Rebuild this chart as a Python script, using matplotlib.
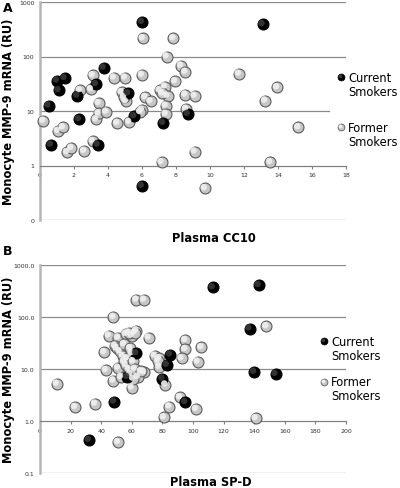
import matplotlib
matplotlib.use("Agg")
import matplotlib.pyplot as plt
import matplotlib.transforms as mtransforms

# ---------------- data ----------------
a_cur_x = [6.0, 0.5, 1.0, 1.45, 1.1, 0.65, 2.3, 2.2, 3.3, 3.75, 3.4, 5.2, 5.55, 6.0, 7.25, 8.7, 13.1]
a_cur_y = [430, 12.5, 36, 40, 24, 2.4, 7, 19, 31, 62, 2.4, 21, 8, 0.42, 6, 8.8, 390]

a_for_x = [0.2, 1.05, 1.35, 1.6, 1.85, 2.6, 3.1, 2.35, 3.1, 3.0, 3.45, 3.3, 3.45, 3.9,
           4.35, 4.55, 5.0, 4.8, 5.05, 4.95, 5.25, 6.05, 7.85, 7.45, 6.0, 6.0, 5.9, 6.2,
           6.5, 8.3, 8.55, 7.95, 11.7, 7.05, 7.35, 7.5, 7.2, 8.55, 9.1, 7.4, 7.4, 8.6,
           9.1, 7.15, 13.95, 13.25, 15.2, 13.55, 9.7]
a_for_y = [6.6, 4.3, 5.0, 1.75, 2.1, 1.85, 2.8, 24, 45, 25, 14, 7, 9, 9.7,
           41, 6, 41, 22, 15, 18, 6.3, 215, 215, 100, 46, 10.5, 9.5, 18,
           15, 68, 52, 35, 48, 24, 28, 19, 21, 20, 19, 12.5, 8.8, 10.9,
           1.8, 1.15, 27, 15.5, 5.0, 1.15, 0.38]

b_cur_x = [113, 143, 137, 140, 154, 32, 48.5, 85, 83, 80, 95, 63, 57]
b_cur_y = [370, 410, 60, 8.8, 8.0, 0.43, 2.35, 19, 12, 6.5, 2.3, 20, 7]

b_for_x = [63, 68, 48, 11, 23, 36, 51, 81, 84.5, 91.5, 102, 43, 48, 53, 60,
           51, 45, 51, 56, 63, 60, 71, 42, 49, 75, 78, 78, 68, 64, 61, 82,
           95, 95, 92.5, 103, 105.5, 148, 141,
           58, 62, 50, 52, 54, 55, 56, 57, 58, 59, 55, 60, 61, 62, 59, 77, 66]
b_for_y = [215, 215, 100, 5.2, 1.85, 2.15, 0.39, 1.17, 1.9, 2.85, 1.7, 9.5, 6, 7, 4.4,
           10.5, 44, 40, 47, 55, 44, 40, 21, 28, 18, 16, 11, 8.6, 7, 6.5, 5,
           36, 24, 16, 13.8, 26, 66, 1.13,
           50, 50, 25, 22, 18, 14, 12, 16, 10, 8, 30, 20, 14, 10, 25, 14.5, 9]

a_xticks = [0, 2, 4, 6, 8, 10, 12, 14, 16, 18]
b_xticks = [0, 20, 40, 60, 80, 100, 120, 140, 160, 180, 200]
yticks = [0.1, 1, 10, 100, 1000]
a_ylabels = ["0", "1", "10", "100", "1000"]
b_ylabels = ["0.1", "1.0", "10.0", "100.0", "1000.0"]
legend_labels = [["Current", "Smokers"], ["Former", "Smokers"]]

assert len(a_for_x) == len(a_for_y) and len(b_for_x) == len(b_for_y)

fig = plt.figure(figsize=(4.0, 4.89), dpi=100)
W, H = 400.0, 489.0

GRAY, GRAY_EDGE, GRAY_HI = '#c6c6c6', '#5a5a5a', '#f0f0f0'
BLACK, BLACK_EDGE, BLACK_HI = '#000000', '#000000', '#383838'


def balls(ax, x, y, base, edge, hi, size=62):
    ax.scatter(x, y, s=size, c=base, edgecolors=edge, linewidths=0.8, zorder=3, clip_on=False)
    off = mtransforms.offset_copy(ax.transData, fig=fig, x=-1.2, y=1.2, units='dots')
    ax.scatter(x, y, s=size * 0.35, c=hi, edgecolors='none', zorder=4,
               transform=off, clip_on=False, alpha=0.9)


def panel(rect, xmax, xticks, ylabels, cx, cy, fx, fy, short10):
    ax = fig.add_axes(rect)
    ax.set_yscale('log')
    ax.set_ylim(0.1, 1000)
    ax.set_xlim(0, xmax)
    for s in ['top', 'right']:
        ax.spines[s].set_visible(False)
    ax.spines['left'].set_color('#b5b5b5')
    ax.spines['left'].set_linewidth(1.8)
    ax.spines['bottom'].set_position(('data', 1))
    ax.spines['bottom'].set_color('#808080')
    ax.spines['bottom'].set_linewidth(0.9)
    for v in yticks:
        if v == 1:
            continue
        xm = 0.945 if (v == 10 and short10) else 1.0
        ax.axhline(v, xmin=0, xmax=xm, color='#8a8a8a', lw=0.9, zorder=1)
    ax.set_yticks(yticks)
    ax.set_yticklabels(ylabels)
    ax.yaxis.set_minor_locator(matplotlib.ticker.NullLocator())
    ax.set_xticks(xticks)
    ax.set_xticklabels([str(t) for t in xticks])
    ax.tick_params(axis='y', length=0, labelsize=4.5, pad=4, labelcolor='#333333')
    ax.tick_params(axis='x', length=2, direction='out', color='#808080',
                   labelsize=4.5, pad=3, labelcolor='#333333')
    ax.set_facecolor('none')
    balls(ax, fx, fy, GRAY, GRAY_EDGE, GRAY_HI)
    balls(ax, cx, cy, BLACK, BLACK_EDGE, BLACK_HI)
    return ax


axA = panel([40 / W, 1 - 221 / H, 306 / W, 218 / H], 18, a_xticks, a_ylabels,
            a_cur_x, a_cur_y, a_for_x, a_for_y, True)
axB = panel([40 / W, 1 - 474 / H, 306 / W, 208 / H], 200, b_xticks, b_ylabels,
            b_cur_x, b_cur_y, b_for_x, b_for_y, False)

# labels
for yc in (112, 370):
    fig.text(9 / W, 1 - yc / H, "Monocyte MMP-9 mRNA (RU)", rotation=90, fontsize=8.3,
             fontweight='bold', ha='center', va='center')
fig.text(214 / W, 1 - 239 / H, "Plasma CC10", fontsize=8.3, fontweight='bold',
         ha='center', va='center')
fig.text(211 / W, 1 - 483 / H, "Plasma SP-D", fontsize=8.3, fontweight='bold',
         ha='center', va='center')
fig.text(3 / W, 1 - 9 / H, "A", fontsize=9, fontweight='bold', ha='left', va='center')
fig.text(3 / W, 1 - 252 / H, "B", fontsize=9, fontweight='bold', ha='left', va='center')

# legends (overlay in pixel coordinates)
ax_l = fig.add_axes([0, 0, 1, 1], facecolor='none')
ax_l.set_axis_off()
ax_l.set_xlim(0, W)
ax_l.set_ylim(H, 0)


def legend_item(px, py, color, edge, hi, lines):
    ax_l.scatter([px], [py], s=24, c=color, edgecolors=edge, linewidths=0.6, zorder=3)
    ax_l.scatter([px - 0.6], [py - 0.6], s=7, c=hi, edgecolors='none', zorder=4)
    ax_l.text(px + 7, py, lines[0], fontsize=8.3, ha='left', va='center')
    ax_l.text(px + 7, py + 14, lines[1], fontsize=8.3, ha='left', va='center')


legend_item(341, 78, BLACK, BLACK_EDGE, BLACK_HI, legend_labels[0])
legend_item(341, 128, GRAY, GRAY_EDGE, GRAY_HI, legend_labels[1])
legend_item(324, 342, BLACK, BLACK_EDGE, BLACK_HI, legend_labels[0])
legend_item(324, 383, GRAY, GRAY_EDGE, GRAY_HI, legend_labels[1])

fig.savefig("out.png", dpi=100)
